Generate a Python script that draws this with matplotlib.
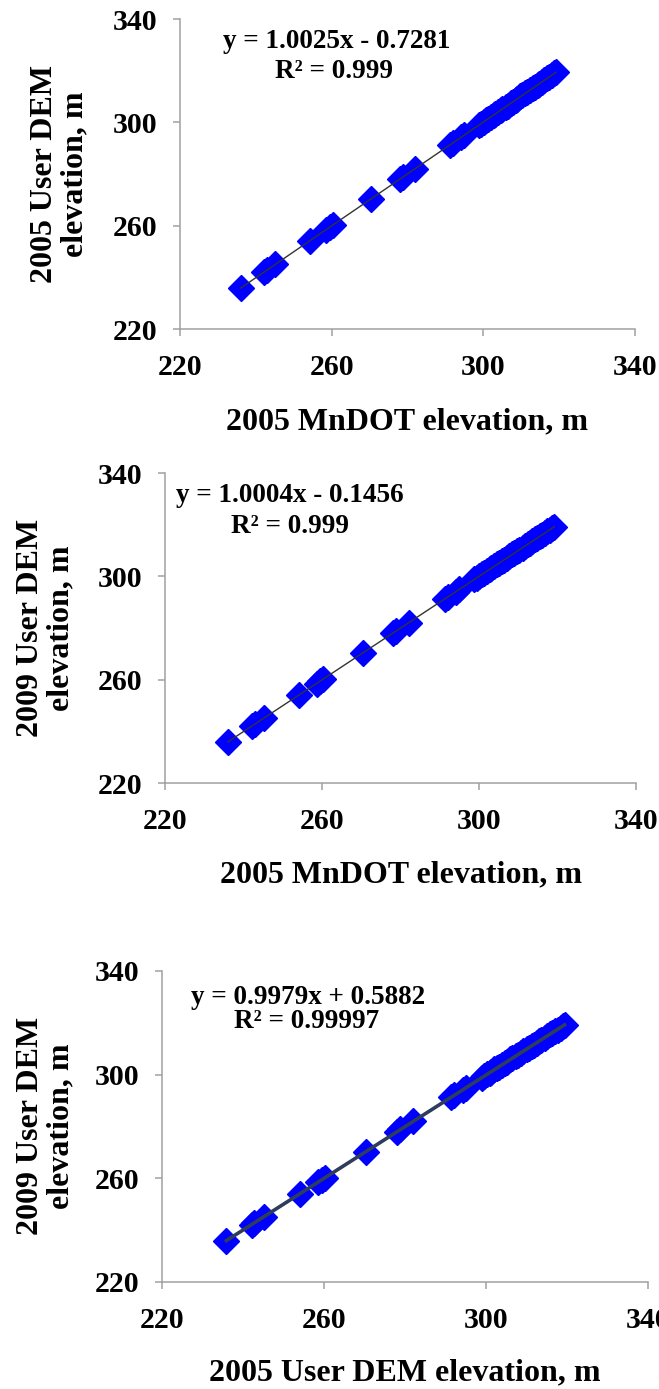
import numpy as np
import matplotlib.pyplot as plt

# ------------------------------------------
# elevation comparison data (m)
# ------------------------------------------
x_mndot05 = [236.0, 242.2, 242.9, 245.1, 254.2, 258.6, 259.5, 260.3, 270.4,
             278.0, 278.9, 282.1, 291.3, 292.1, 294.2, 295.0, 298.8, 299.5,
             300.1, 300.8, 301.2, 302.0, 302.7, 303.1, 303.9, 304.6, 305.0,
             305.9, 306.4, 307.2, 307.7, 308.5, 309.0, 309.8, 310.3, 311.1,
             311.6, 312.4, 313.0, 313.5, 314.3, 314.8, 315.6, 316.1, 316.9,
             317.4, 318.1, 318.7, 319.2]
y_user05 = [235.9, 242.1, 242.8, 245.2, 254.1, 258.4, 259.6, 260.2, 270.3,
            278.1, 278.8, 282.0, 291.4, 292.0, 294.3, 295.1, 298.9, 299.4,
            300.2, 300.9, 301.3, 302.0, 302.8, 303.2, 304.0, 304.7, 305.1,
            306.0, 306.5, 307.4, 307.8, 308.7, 309.1, 310.0, 310.5, 311.3,
            311.8, 312.6, 313.2, 313.7, 314.5, 315.0, 315.8, 316.3, 317.1,
            317.7, 318.4, 319.0, 319.4]
y_user09 = [235.9, 242.1, 242.9, 245.0, 254.1, 258.5, 259.4, 260.3, 270.3,
            278.0, 278.9, 282.1, 291.2, 292.1, 294.1, 295.0, 298.8, 299.4,
            300.1, 300.8, 301.2, 302.0, 302.7, 303.1, 303.9, 304.6, 305.0,
            305.9, 306.4, 307.2, 307.7, 308.5, 309.0, 309.8, 310.3, 311.1,
            311.6, 312.4, 313.0, 313.5, 314.3, 314.8, 315.6, 316.1, 316.9,
            317.4, 318.1, 318.7, 319.2]

ticks = [220, 260, 300, 340]
eq_text = ["y = 1.0025x - 0.7281", "y = 1.0004x - 0.1456", "y = 0.9979x + 0.5882"]
r2_text = ["R² = 0.999", "R² = 0.999", "R² = 0.99997"]
xlabels = ["2005 MnDOT elevation, m", "2005 MnDOT elevation, m", "2005 User DEM elevation, m"]
ylabels = ["2005 User DEM\nelevation, m", "2009 User DEM\nelevation, m", "2009 User DEM\nelevation, m"]

panels = [(x_mndot05, y_user05), (x_mndot05, y_user09), (y_user05, y_user09)]

plt.rcParams['font.family'] = ['Liberation Serif', 'DejaVu Serif']
plt.rcParams['font.weight'] = 'bold'

W, H = 659, 1389
fig = plt.figure(figsize=(W / 100, H / 100), dpi=100)

def fx(px):
    return px / W

def fy(py):
    return 1 - py / H

# axes boxes in pixels: left, top, right, bottom
boxes = [(180, 19, 635, 329), (165, 473, 636, 783), (162, 971, 648, 1282)]
eq_pos = [(337, 42, 334, 71), (290, 495, 290, 526), (308, 997, 307, 1022)]
xlab_y = [422, 875, 1373]
ylab_pos = [(60, 174), (46, 628), (46, 1126)]
line_style = [dict(color='#333333', lw=1.0), dict(color='#333333', lw=1.0),
              dict(color='#2e3d5c', lw=2.6)]

axis_grey = '#a0a0a0'

for i, (xs, ys) in enumerate(panels):
    l, t, r, b = boxes[i]
    ax = fig.add_axes([fx(l), fy(b), (r - l) / W, (b - t) / H])
    ax.set_xlim(220, 340)
    ax.set_ylim(220, 340)
    ax.set_xticks(ticks)
    ax.set_yticks(ticks)
    for s in ['top', 'right']:
        ax.spines[s].set_visible(False)
    for s in ['left', 'bottom']:
        ax.spines[s].set_color(axis_grey)
        ax.spines[s].set_linewidth(1.1)
    ax.tick_params(direction='out', length=5, width=1.1, color=axis_grey,
                   labelsize=21.5)
    ax.tick_params(axis='x', pad=13)
    ax.tick_params(axis='y', pad=11)
    for lab in ax.get_xticklabels() + ax.get_yticklabels():
        lab.set_fontweight('bold')

    ax.plot(xs, ys, linestyle='none', marker='D', markersize=13,
            color='#0000ff', markeredgecolor='#0000ff', zorder=2)

    # linear trendline
    k, c = np.polyfit(xs, ys, 1)
    xx = np.array([min(xs), max(xs)])
    ax.plot(xx, k * xx + c, zorder=3, **line_style[i])
    ax.patch.set_alpha(0)

    ex, ey, rx, ry = eq_pos[i]
    fig.text(fx(ex), fy(ey), eq_text[i], ha='center', va='center',
             fontsize=19.5, fontweight='bold')
    fig.text(fx(rx), fy(ry), r2_text[i], ha='center', va='center',
             fontsize=19.5, fontweight='bold')

    fig.text(fx((l + r) / 2), fy(xlab_y[i]), xlabels[i], ha='center',
             va='center', fontsize=23, fontweight='bold')
    yx, yy = ylab_pos[i]
    fig.text(fx(yx), fy(yy), ylabels[i], ha='center', va='center',
             rotation=90, fontsize=23, fontweight='bold',
             multialignment='center', linespacing=1.05)

fig.savefig("out.png", dpi=100)
